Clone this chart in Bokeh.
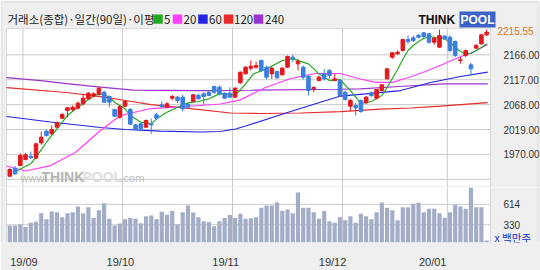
import numpy as np
from bokeh.plotting import figure
from bokeh.layouts import column
from bokeh.models import (Range1d, FixedTicker, Label, BoxAnnotation,
                          PrintfTickFormatter, LinearAxis)
from bokeh.embed import file_html
from bokeh.resources import INLINE

# ---------------- data ----------------
opens = [1927.2, 1942.9, 1948.2, 1960.0, 1966.5, 1962.6, 1992.8, 2015.7, 2010.5, 2023.6,
         2041.3, 2056.4, 2058.4, 2061.0, 2069.5, 2079.4, 2084.6, 2087.9, 2092.5, 2084.0,
         2058.4, 2043.3, 2064.9, 2058.4, 2028.2, 2030.2, 2023.6, 2030.2, 2047.9, 2067.6,
         2063.0, 2080.7, 2082.7, 2082.7, 2068.2, 2074.1, 2086.0, 2089.2, 2092.5, 2103.6,
         2102.3, 2090.5, 2090.5, 2082.7, 2110.9, 2128.6, 2139.7, 2141.7, 2154.8, 2141.7,
         2128.6, 2133.2, 2126.6, 2141.7, 2161.4, 2148.3, 2141.7, 2124.0, 2099.1, 2115.5,
         2128.6, 2135.1, 2115.5, 2115.5, 2092.5, 2064.9, 2066.3, 2076.1, 2071.5, 2091.2,
         2080.7, 2095.8, 2118.7, 2161.4, 2167.9, 2174.5, 2196.1, 2199.4, 2204.0, 2209.3,
         2207.3, 2190.9, 2181.1, 2202.7, 2200.7, 2192.2, 2154.8, 2164.7, 2146.3, 2179.1,
         2187.6, 2205.3]
closes = [1940.3, 1931.8, 1967.9, 1969.2, 1963.3, 1990.8, 2003.9, 2007.2, 2019.0, 2032.2,
          2048.5, 2061.7, 2063.0, 2070.8, 2080.7, 2090.5, 2089.2, 2100.4, 2072.8, 2072.8,
          2045.3, 2064.3, 2074.1, 2029.5, 2019.0, 2020.3, 2036.7, 2028.2, 2041.3, 2063.6,
          2069.5, 2084.0, 2076.1, 2059.7, 2063.0, 2087.3, 2079.4, 2084.0, 2086.0, 2092.5,
          2089.2, 2080.7, 2082.7, 2100.4, 2131.9, 2141.7, 2143.7, 2145.0, 2135.1, 2122.0,
          2139.7, 2120.7, 2139.7, 2162.7, 2158.1, 2152.9, 2122.0, 2095.8, 2101.7, 2122.0,
          2118.7, 2125.3, 2118.7, 2086.0, 2078.1, 2076.1, 2061.7, 2054.5, 2082.7, 2086.0,
          2097.7, 2106.9, 2138.4, 2169.9, 2171.2, 2196.1, 2192.2, 2194.2, 2200.7, 2202.1,
          2190.9, 2198.8, 2204.0, 2197.5, 2174.5, 2164.7, 2156.1, 2174.5, 2138.4, 2184.3,
          2205.3, 2210.6]
highs = [1942.9, 1946.9, 1972.5, 1973.1, 1975.7, 1992.8, 2015.1, 2018.4, 2026.9, 2034.8,
         2051.2, 2063.0, 2066.3, 2074.1, 2089.2, 2092.5, 2092.5, 2102.3, 2095.1, 2086.0,
         2059.7, 2067.6, 2076.1, 2061.0, 2030.2, 2032.2, 2038.7, 2040.0, 2051.8, 2074.1,
         2072.8, 2087.3, 2084.6, 2087.3, 2071.5, 2089.2, 2089.2, 2092.5, 2094.5, 2105.6,
         2105.6, 2092.5, 2102.3, 2102.3, 2133.2, 2143.7, 2154.8, 2152.9, 2156.8, 2145.0,
         2141.7, 2135.1, 2141.7, 2164.7, 2166.0, 2158.1, 2145.0, 2126.6, 2104.3, 2125.3,
         2138.4, 2138.4, 2128.6, 2118.7, 2095.8, 2079.4, 2071.5, 2078.1, 2084.6, 2093.8,
         2099.1, 2108.9, 2139.7, 2171.2, 2174.5, 2197.5, 2204.0, 2204.0, 2207.3, 2210.6,
         2209.3, 2200.7, 2215.8, 2205.3, 2204.0, 2194.2, 2161.4, 2176.5, 2150.2, 2187.6,
         2207.3, 2215.55]
lows = [1925.2, 1929.8, 1946.9, 1958.0, 1961.3, 1961.3, 1988.8, 2005.3, 2009.0, 2023.0,
        2040.0, 2043.3, 2054.5, 2059.7, 2066.3, 2078.1, 2084.0, 2086.0, 2071.5, 2063.0,
        2043.3, 2040.0, 2063.0, 2028.2, 2017.1, 2015.1, 2023.0, 2010.5, 2038.7, 2062.3,
        2061.0, 2076.1, 2071.5, 2054.5, 2061.0, 2072.8, 2078.1, 2067.6, 2084.6, 2089.2,
        2086.0, 2079.4, 2080.7, 2080.7, 2108.9, 2127.3, 2135.1, 2138.4, 2131.9, 2117.4,
        2118.7, 2118.7, 2125.3, 2140.4, 2151.5, 2135.1, 2117.4, 2086.0, 2092.5, 2113.5,
        2115.5, 2118.7, 2115.0, 2084.6, 2076.1, 2054.5, 2046.6, 2051.8, 2069.5, 2082.7,
        2078.1, 2093.8, 2117.4, 2158.1, 2166.0, 2172.5, 2187.6, 2190.9, 2198.8, 2198.8,
        2187.6, 2185.7, 2179.1, 2196.1, 2171.2, 2161.4, 2148.3, 2161.4, 2125.3, 2177.8,
        2185.7, 2202.7]
volumes = [318, 318, 338,
           297, 359, 371, 491, 408, 515, 503, 433, 491, 503, 585, 491, 573, 425, 532, 630, 412, 318, 346,
           408, 425, 412, 350, 449, 458, 408, 511, 470, 523, 338, 503, 597, 499, 433, 379, 367, 309, 379, 425, 466,
           425, 482, 412, 421, 433, 565, 597, 597, 639, 523, 544, 490, 779, 565, 565, 503, 412, 523, 379, 359, 433,
           392, 449, 359, 482, 449, 408, 503, 639, 565, 532, 392, 573, 573, 622, 635, 503, 552, 552, 490, 429,
           503, 606, 585, 552, 853, 573, 573, 112]

ma5_x = [1, 2, 4, 5, 7, 9, 11, 13, 15, 17, 18, 19, 20, 22, 23, 25, 27, 28, 30, 32,
         34, 36, 38, 40, 41.5, 43, 45, 46.5, 49, 52, 54, 57, 59, 61, 63, 65, 67, 69, 71, 72,
         73, 74, 75, 76, 77, 78, 79, 80, 81, 82, 83, 84, 85, 86, 87, 88, 89, 90, 91]
ma5_y = [1935.0, 1941.3, 1951.5, 1964.5, 1994.0, 2020.4, 2046.5, 2062.9, 2078.0, 2089.2,
         2087.9, 2082.6, 2072.7, 2059.7, 2046.5, 2033.4, 2030.2, 2040.0, 2053.0, 2062.9,
         2071.5, 2074.1, 2079.4, 2089.2, 2089.2, 2085.9, 2108.9, 2128.6, 2138.4, 2154.8,
         2158.1, 2148.3, 2128.6, 2115.4, 2117.4, 2095.7, 2070.2, 2074.1, 2085.9, 2101.6,
         2119.4, 2137.1, 2156.8, 2174.5, 2184.3, 2192.2, 2198.1, 2202.0, 2200.6, 2199.1,
         2197.5, 2190.2, 2181.0, 2172.5, 2168.0, 2168.6, 2174.5, 2180.4, 2187.6]
ma20_x = [-0.6, 3, 7.8, 12.5, 17.3, 21.1, 26.9, 33.5, 40.2, 44, 48.8, 53.6, 58.3, 63.1,
          66.5, 69.8, 73, 76.1, 79.3, 82.6, 85.6, 88.5, 91.2]
ma20_y = [1947.2, 1937.3, 1948.1, 1973.7, 2017.0, 2046.5, 2060.3, 2064.3, 2069.2, 2077.4,
          2101.6, 2119.4, 2129.2, 2129.2, 2119.4, 2111.8, 2111.8, 2121.3, 2133.1, 2146.9,
          2160.7, 2171.5, 2186.3]
ma60_x = [-0.6, 7.8, 17.3, 22.1, 28.8, 36.4, 40.2, 43.1, 45, 53.6, 63.1, 67.9, 74.6, 80.3, 86, 91.2]
ma60_y = [2044.6, 2033.8, 2023.0, 2019.0, 2016.0, 2014.1, 2015.1, 2020.0, 2025.9, 2054.4,
          2084.9, 2089.2, 2095.7, 2111.5, 2123.3, 2131.8]
ma120_x = [-0.6, 10.8, 17.3, 22.1, 26.9, 34.5, 42.1, 47.8, 55.5, 63.1, 70.7, 76.5, 82.2, 91.2]
ma120_y = [2101.6, 2091.8, 2083.9, 2076.1, 2068.1, 2060.3, 2051.5, 2050.5, 2051.5, 2054.4,
           2059.3, 2061.3, 2065.2, 2072.1]
ma240_x = [-0.6, 5.9, 10.8, 17.3, 23.6, 36.4, 45.9, 63.1, 66.9, 75.1, 82.8, 91.2]
ma240_y = [2121.3, 2115.4, 2109.5, 2102.6, 2096.7, 2095.7, 2096.3, 2098.2, 2099.1, 2104.2,
           2108.9, 2108.9]

month_bounds = [2.5, 21.5, 42.5, 63.5, 83.5]
month_label_pos = [2.7, 21.1, 41.2, 61.6, 80.7]
month_labels = ["19/09", "19/10", "19/11", "19/12", "20/01"]
price_ticks = [1970, 2019, 2068, 2117, 2166]
price_grid = [1921, 1970, 2019, 2068, 2117, 2166]
vol_ticks = [330, 614]
current_price = 2215.55
legend_names = ["5", "20", "60", "120", "240"]

# ---------------- geometry / styles ----------------
X_START, X_END = -1.775, 101.278        # canvas edges in candle-index units
PLOT_X0, PLOT_X1 = -0.63, 91.737        # plot box left / right
P_TOP, P_BOT = 2272.9, 1904.9           # price range over the top canvas
P_BOX_TOP, P_BOX_BOT = 2217.8, 1905.9   # price plot box
V_TOP, V_BOT = 848.6, 82.9              # volume range over its frame

BG = "#efefef"
RED = "#e3191e"
BLUE = "#3a7ee0"
GRID = "#cacaca"
FRAME = "#9a9a9a"
VOLC = "#a3adc8"
MA_COLORS = ["#22aa22", "#ff3cff", "#2424e0", "#e82a2a", "#9933cc"]
AXIS_FONT = "Liberation Sans"
KFONT = "Noto Sans CJK KR"

idx = np.arange(len(opens))
o = np.array(opens)
c = np.array(closes)
colors = np.where(c >= o, RED, BLUE).tolist()
body_top = np.maximum(o, c)
body_bot = np.minimum(o, c)


def style_axis(a, size="10px"):
    a.axis_line_color = None
    a.major_tick_line_color = None
    a.minor_tick_line_color = None
    a.major_label_standoff = 7
    a.major_label_text_font = AXIS_FONT
    a.major_label_text_font_size = size
    a.major_label_text_color = "#333333"


def flab(fig, text, cx, cy, color, size, bottom, font=AXIS_FONT, style="normal",
         level="annotation", **kw):
    fig.add_layout(Label(x=cx, y=bottom - cy, x_units="screen", y_units="screen",
                         text=text, text_color=color, text_font_size=size,
                         text_font=font, text_font_style=style,
                         text_baseline="middle", text_align="left", level=level, **kw))


# ================= price panel (canvas y 0..187) =================
p1 = figure(width=540, height=187, x_range=Range1d(X_START, X_END),
            y_range=Range1d(P_BOT, P_TOP), x_axis_location=None,
            y_axis_location=None, toolbar_location=None, output_backend="svg",
            min_border=0, background_fill_color=BG, border_fill_color=BG,
            outline_line_color=None)
p1.grid.visible = False

# outer border of the picture
p1.add_layout(BoxAnnotation(left=1.5, right=537.5, top=185.5, bottom=-20,
                            left_units="screen", right_units="screen",
                            top_units="screen", bottom_units="screen",
                            fill_alpha=0, line_color="#b4b4b4", line_width=1,
                            level="image"))
# white plot box
p1.add_layout(BoxAnnotation(left=PLOT_X0, right=PLOT_X1, top=P_BOX_TOP, bottom=P_BOX_BOT,
                            fill_color="white", fill_alpha=1, line_color=FRAME,
                            line_width=1, level="image"))
# grid lines
p1.segment(x0=month_bounds, y0=[P_BOX_BOT] * len(month_bounds), x1=month_bounds,
           y1=[P_BOX_TOP] * len(month_bounds), line_color=GRID, line_width=1)
p1.segment(x0=[PLOT_X0] * len(price_grid), y0=price_grid, x1=[PLOT_X1] * len(price_grid),
           y1=price_grid, line_color=GRID, line_width=1)

# watermark
flab(p1, "www.", 20, 177, "#bdbdbd", "11px", 187)
flab(p1, "THINK", 41, 176.5, "#b3b3b3", "14px", 187, style="bold")
flab(p1, "POOL", 82, 176.5, "#dedede", "14px", 187, style="bold")
flab(p1, ".com", 120, 177, "#bdbdbd", "11px", 187)

# moving averages
for xs, ys, col in [(ma240_x, ma240_y, MA_COLORS[4]), (ma120_x, ma120_y, MA_COLORS[3]),
                    (ma60_x, ma60_y, MA_COLORS[2]), (ma20_x, ma20_y, MA_COLORS[1]),
                    (ma5_x, ma5_y, MA_COLORS[0])]:
    p1.line(xs, ys, line_color=col, line_width=1.2)

# candles
p1.segment(x0=idx, y0=lows, x1=idx, y1=highs, line_color=colors, line_width=1)
p1.vbar(x=idx, width=0.68, top=body_top, bottom=body_bot,
        fill_color=colors, line_color=colors, line_width=1)

# price axis (fixed at the right edge of the plot box)
pax = LinearAxis(fixed_location=PLOT_X1, ticker=FixedTicker(ticks=price_ticks),
                 formatter=PrintfTickFormatter(format="%.2f"))
style_axis(pax)
p1.add_layout(pax, "right")

# current price
p1.add_layout(Label(x=497, y=current_price, x_units="screen", y_units="data",
                    y_offset=-1.5, text=f"{current_price:.2f}", text_color="#e0761a",
                    text_font=AXIS_FONT, text_font_size="10px",
                    text_baseline="middle", text_align="left"))

# header title + legend
flab(p1, "거래소(종합)·일간(90일)·이평", 7, 18.5, "#222222", "11.5px", 187, font=KFONT)
sq_left = [152.7, 172.3, 197.7, 223.3, 253.3]
num_left = [163.5, 183, 208.5, 233.5, 264.5]
for i, name in enumerate(legend_names):
    p1.add_layout(BoxAnnotation(left=sq_left[i], right=sq_left[i] + 9.5,
                                top=187 - 14, bottom=187 - 23.3,
                                left_units="screen", right_units="screen",
                                top_units="screen", bottom_units="screen",
                                fill_color=MA_COLORS[i], fill_alpha=1, line_color=None))
    flab(p1, name, num_left[i], 18.5, "#222222", "11.5px", 187, font=KFONT)

# logo
flab(p1, "THINK", 418, 19, "#111111", "12px", 187, style="bold")
flab(p1, "POOL", 459, 19, "#ffffff", "12px", 187, style="bold",
     background_fill_color="#3a62c8", padding=1)

# ================= volume panel (canvas y 187..270) =================
p2 = figure(width=540, height=83, x_range=p1.x_range, y_range=Range1d(V_BOT, V_TOP),
            y_axis_location=None, x_axis_location="below",
            toolbar_location=None, output_backend="svg",
            min_border_left=0, min_border_right=0, min_border_top=0,
            min_border_bottom=21, background_fill_color=BG,
            border_fill_color=BG, outline_line_color=None)
p2.grid.visible = False
p2.add_layout(BoxAnnotation(left=1.5, right=537.5, top=100, bottom=-20,
                            left_units="screen", right_units="screen",
                            top_units="screen", bottom_units="screen",
                            fill_alpha=0, line_color="#b4b4b4", line_width=1,
                            level="image"))
p2.add_layout(BoxAnnotation(left=PLOT_X0, right=PLOT_X1, top=V_TOP + 50, bottom=V_BOT - 50,
                            fill_color="white", fill_alpha=1, line_color=FRAME,
                            line_width=1, level="image"))
p2.segment(x0=month_bounds, y0=[V_BOT] * len(month_bounds), x1=month_bounds,
           y1=[V_TOP] * len(month_bounds), line_color=GRID, line_width=1)
p2.segment(x0=[PLOT_X0] * len(vol_ticks), y0=vol_ticks, x1=[PLOT_X1] * len(vol_ticks),
           y1=vol_ticks, line_color=GRID, line_width=1)
p2.vbar(x=idx, width=0.8, top=volumes, bottom=0, fill_color=VOLC, line_color=None)

vax = LinearAxis(fixed_location=PLOT_X1, ticker=FixedTicker(ticks=vol_ticks))
style_axis(vax)
p2.add_layout(vax, "right")

vx = p2.xaxis[0]
vx.ticker = FixedTicker(ticks=month_label_pos)
vx.major_label_overrides = dict(zip(month_label_pos, month_labels))
style_axis(vx, size="11px")

flab(p2, "x 백만주", 494, 244, "#2233cc", "10.5px", 249, font=KFONT)

layout = column(p1, p2, spacing=0)
open("out.html", "w").write(file_html(layout, INLINE))
